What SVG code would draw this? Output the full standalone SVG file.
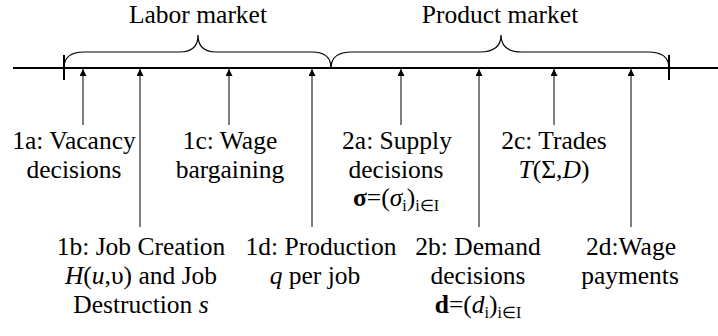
<svg xmlns="http://www.w3.org/2000/svg" width="718" height="336" viewBox="0 0 718 336">
<style>
text{font-family:'Liberation Serif','Times New Roman',serif;font-size:25.5px;fill:#000;text-anchor:middle}
.i{font-style:italic}
.b{font-weight:bold}
.s{font-size:16px}
.axis{stroke:#000;stroke-width:2;fill:none}
.brace{stroke:#000;stroke-width:1.2;fill:none}
.arr{stroke:#000;stroke-width:1;fill:none;marker-end:url(#ah)}
</style>
<defs>
<marker id="ah" markerUnits="userSpaceOnUse" markerWidth="8" markerHeight="7" refX="7" refY="3.5" orient="auto" viewBox="0 0 8 7">
<path d="M0,0 L7,3.5 L0,7 z" fill="#000"/>
</marker>
</defs>
<g id="timeline">
<line class="axis" x1="13" y1="68" x2="718" y2="68"/>
<line class="axis" x1="64" y1="55" x2="64" y2="80"/>
<line class="axis" x1="669" y1="55" x2="669" y2="80"/>
</g>
<g id="labor-market">
<path class="brace" d="M64,68 Q64,52 84,52 L180,52 Q198,52 198,35 Q198,52 216,52 L312,52 Q331,52 331,68"/>
<text x="198" y="23">Labor market</text>
</g>
<g id="product-market">
<path class="brace" d="M331,68 Q331,52 352,52 L480,52 Q501,52 501,35 Q501,52 522,52 L648,52 Q669,52 669,68"/>
<text x="500" y="23">Product market</text>
</g>
<g id="connectors">
<line class="arr" x1="83" y1="125" x2="83" y2="69"/>
<line class="arr" x1="140" y1="227" x2="140" y2="69"/>
<line class="arr" x1="229" y1="125" x2="229" y2="69"/>
<line class="arr" x1="312" y1="227" x2="312" y2="69"/>
<line class="arr" x1="401" y1="125" x2="401" y2="69"/>
<line class="arr" x1="479" y1="227" x2="479" y2="69"/>
<line class="arr" x1="554" y1="125" x2="554" y2="69"/>
<line class="arr" x1="631" y1="227" x2="631" y2="69"/>
</g>
<g id="n1a">
<text x="74" y="149">1a: Vacancy</text>
<text x="74" y="178">decisions</text>
</g>
<g id="n1b">
<text x="141" y="255">1b: Job Creation</text>
<text x="141" y="284"><tspan class="i">H</tspan>(<tspan class="i">u</tspan>,υ) and Job</text>
<text x="141" y="313">Destruction <tspan class="i">s</tspan></text>
</g>
<g id="n1c">
<text x="230" y="149">1c: Wage</text>
<text x="230" y="178">bargaining</text>
</g>
<g id="n1d">
<text x="321" y="255">1d: Production</text>
<text x="315" y="284"><tspan class="i">q</tspan> per job</text>
</g>
<g id="n2a">
<text x="397" y="149">2a: Supply</text>
<text x="396" y="178">decisions</text>
<text x="396" y="206"><tspan class="b">σ</tspan>=(<tspan class="i">σ</tspan><tspan class="s" dy="5">i</tspan><tspan dy="-5">)</tspan><tspan class="s" dy="5">i∈I</tspan></text>
</g>
<g id="n2b">
<text x="478" y="255">2b: Demand</text>
<text x="478" y="284">decisions</text>
<text x="478" y="313"><tspan class="b">d</tspan>=(<tspan class="i">d</tspan><tspan class="s" dy="5">i</tspan><tspan dy="-5">)</tspan><tspan class="s" dy="5">i∈I</tspan></text>
</g>
<g id="n2c">
<text x="554" y="149">2c: Trades</text>
<text x="554" y="178"><tspan class="i">T</tspan>(Σ,<tspan class="i">D</tspan>)</text>
</g>
<g id="n2d">
<text x="631" y="255">2d:Wage</text>
<text x="630" y="284">payments</text>
</g>
</svg>
